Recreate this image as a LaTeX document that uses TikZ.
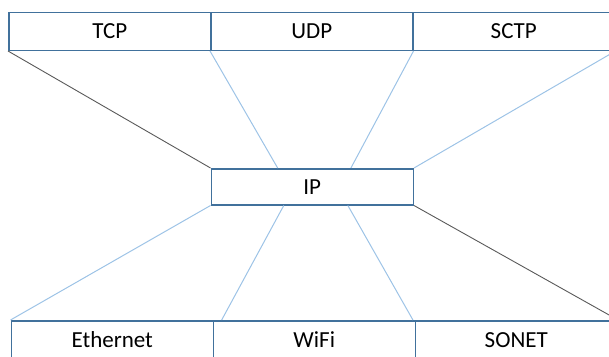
\documentclass[tikz,border=0pt]{standalone}
\usepackage{fontspec}
\setmainfont{Carlito}
\usetikzlibrary{calc}
\definecolor{boxline}{HTML}{41719C}
\definecolor{lightline}{HTML}{9DC3E6}
\definecolor{darkline}{HTML}{595959}
\begin{document}
\begin{tikzpicture}[x=1pt,y=-1pt,
  layer/.style={draw=boxline,line width=1.5pt,fill=white,minimum width=202pt,minimum height=38pt,inner sep=0pt,font=\fontsize{23}{27}\selectfont,anchor=north west},
  light/.style={draw=lightline,line width=1pt},
  dark/.style={draw=darkline,line width=0.9pt}]
\useasboundingbox (0,0) rectangle (609,356);
\begin{scope}
\clip (0,0) rectangle (609,356);
\node[layer] (tcp) at (8,11.5) {TCP};
\node[layer] (udp) at (210,11.5) {UDP};
\node[layer] (sctp) at (412,11.5) {SCTP};
\node[layer,minimum height=36pt] (ip) at (210.5,168) {IP};
\node[layer] (eth) at (10.5,320) {Ethernet};
\node[layer] (wifi) at (212.5,320) {WiFi};
\node[layer] (sonet) at (414.5,320) {SONET};
\draw[dark] (tcp.south west) -- (ip.north west);
\draw[light] (udp.south west) -- ($(ip.north west)!0.33!(ip.north east)$);
\draw[light] (udp.south east) -- ($(ip.north west)!0.69!(ip.north east)$);
\draw[light] (sctp.south east) -- (ip.north east);
\draw[light] (ip.south west) -- (eth.north west);
\draw[light] ($(ip.south west)!0.36!(ip.south east)$) -- ($(wifi.north west)!0.045!(wifi.north east)$);
\draw[light] ($(ip.south west)!0.675!(ip.south east)$) -- ($(wifi.north west)!0.985!(wifi.north east)$);
\draw[dark] (ip.south east) -- (sonet.north east);
\end{scope}
\end{tikzpicture}
\end{document}
